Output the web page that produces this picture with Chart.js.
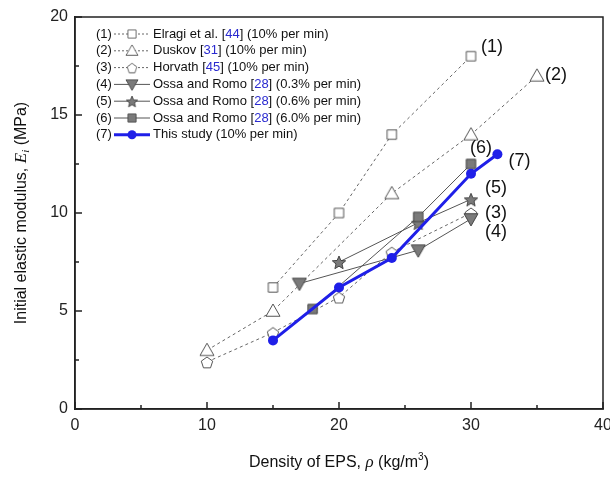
<!DOCTYPE html>
<html>
<head>
<meta charset="utf-8">
<script src="https://cdn.jsdelivr.net/npm/chart.js@4/dist/chart.umd.min.js"></script>
<style>
  html, body { margin: 0; padding: 0; background: #fff; }
  #wrap { width: 610px; height: 479px; }
</style>
</head>
<body>
<div id="wrap"><canvas id="chart" width="610" height="479"></canvas></div>
<script>
'use strict';

// data
const elragiX = [15, 20, 24, 30];
const elragiY = [6.2, 10, 14, 18];
const duskovX = [10, 15, 24, 30, 35];
const duskovY = [3.0, 5.0, 11, 14, 17];
const horvathX = [10, 15, 20, 24, 30];
const horvathY = [2.4, 3.9, 5.7, 8.0, 10.0];
const ossa03X = [17, 26, 30];
const ossa03Y = [6.4, 8.1, 9.7];
const ossa06X = [20, 26, 30];
const ossa06Y = [7.5, 9.5, 10.7];
const ossa60X = [18, 26, 30];
const ossa60Y = [5.1, 9.8, 12.5];
const studyX = [15, 20, 24, 30, 32];
const studyY = [3.5, 6.2, 7.7, 12.0, 13.0];

const xMajorTicks = [0, 10, 20, 30, 40];
const xMinorTicks = [5, 15, 25, 35];
const yMajorTicks = [0, 5, 10, 15, 20];
const yMinorTicks = [2.5, 7.5, 12.5, 17.5];

const seriesTags = ['(1)', '(2)', '(3)', '(4)', '(5)', '(6)', '(7)'];
const legendNames = ['Elragi et al. ', 'Duskov ', 'Horvath ', 'Ossa and Romo ', 'Ossa and Romo ', 'Ossa and Romo ', 'This study '];
const legendRefs = ['44', '31', '45', '28', '28', '28', null];
const legendRates = ['(10% per min)', '(10% per min)', '(10% per min)', '(0.3% per min)', '(0.6% per min)', '(6.0% per min)', '(10% per min)'];

const GRAY = '#555';
const FILL = '#7a7a7a';
const BLUE = '#1f1fe8';
const REF_BLUE = '#2a2ad0';
const SANS = '"Liberation Sans", Arial, sans-serif';
const SERIF = '"Liberation Serif", "Times New Roman", serif';

function pts(xs, ys) {
  return xs.map((x, i) => ({ x, y: ys[i] }));
}

function makeMarker(shape, size, fill, stroke) {
  const c = document.createElement('canvas');
  c.width = size + 2;
  c.height = size + 2;
  const g = c.getContext('2d');
  const cx = c.width / 2, cy = c.height / 2, r = size / 2;
  g.beginPath();
  if (shape === 'square') {
    g.rect(cx - r * 0.85, cy - r * 0.85, r * 1.7, r * 1.7);
  } else if (shape === 'tri') {
    g.moveTo(cx, cy - r);
    g.lineTo(cx + r, cy + r * 0.75);
    g.lineTo(cx - r, cy + r * 0.75);
    g.closePath();
  } else if (shape === 'tridown') {
    g.moveTo(cx, cy + r);
    g.lineTo(cx + r, cy - r * 0.75);
    g.lineTo(cx - r, cy - r * 0.75);
    g.closePath();
  } else if (shape === 'pent') {
    for (let i = 0; i < 5; i++) {
      const a = -Math.PI / 2 + i * 2 * Math.PI / 5;
      const px = cx + r * Math.cos(a), py = cy + 1 + r * Math.sin(a);
      if (i === 0) g.moveTo(px, py); else g.lineTo(px, py);
    }
    g.closePath();
  } else if (shape === 'star') {
    for (let i = 0; i < 10; i++) {
      const a = -Math.PI / 2 + i * Math.PI / 5;
      const rr = i % 2 === 0 ? r : r * 0.45;
      const px = cx + rr * Math.cos(a), py = cy + 1 + rr * Math.sin(a);
      if (i === 0) g.moveTo(px, py); else g.lineTo(px, py);
    }
    g.closePath();
  }
  g.fillStyle = fill;
  g.fill();
  g.lineWidth = 1;
  g.strokeStyle = stroke;
  g.stroke();
  return c;
}

const mSquare = makeMarker('square', 11, '#fff', GRAY);
const mTri = makeMarker('tri', 14, '#fff', GRAY);
const mPent = makeMarker('pent', 12, '#fff', GRAY);
const mTriDown = makeMarker('tridown', 14, FILL, '#444');
const mStar = makeMarker('star', 14, FILL, '#444');
const mSquareF = makeMarker('square', 11, FILL, '#444');

const legendMarkers = [mSquare, mTri, mPent, mTriDown, mStar, mSquareF, 'dot'];
const legendDashed = [true, true, true, false, false, false, false];
// label offsets (px) from last point of each series
const tagOffsets = [[21, -9], [19, -1], [25, 0], [25, 13], [25, -11], [10, -16], [22, 7]];

function dashedSet(data, marker, order) {
  return {
    data, pointStyle: marker, borderColor: '#666', borderWidth: 1, borderDash: [3, 3],
    backgroundColor: '#fff', showLine: true, order,
  };
}
function solidSet(data, marker, order) {
  return {
    data, pointStyle: marker, borderColor: '#555', borderWidth: 1,
    backgroundColor: FILL, showLine: true, order,
  };
}

function drawParts(ctx, x, y, parts) {
  let cx = x;
  parts.forEach(p => {
    ctx.font = p.font;
    ctx.fillStyle = p.color || '#111';
    ctx.fillText(p.text, cx, y + (p.dy || 0));
    cx += ctx.measureText(p.text).width;
  });
  return cx - x;
}
function partsWidth(ctx, parts) {
  let w = 0;
  parts.forEach(p => { ctx.font = p.font; w += ctx.measureText(p.text).width; });
  return w;
}

const decorPlugin = {
  id: 'decor',
  afterDraw(chart) {
    const ctx = chart.ctx;
    const a = chart.chartArea;
    const xs = chart.scales.x, ys = chart.scales.y;
    ctx.save();
    // frame
    ctx.strokeStyle = '#222';
    ctx.lineWidth = 1.5;
    ctx.strokeRect(a.left, a.top, a.right - a.left, a.bottom - a.top);
    // inward ticks
    ctx.beginPath();
    xMajorTicks.forEach(v => { const p = xs.getPixelForValue(v); ctx.moveTo(p, a.bottom); ctx.lineTo(p, a.bottom - 7); });
    xMinorTicks.forEach(v => { const p = xs.getPixelForValue(v); ctx.moveTo(p, a.bottom); ctx.lineTo(p, a.bottom - 4); });
    yMajorTicks.forEach(v => { const p = ys.getPixelForValue(v); ctx.moveTo(a.left, p); ctx.lineTo(a.left + 7, p); });
    yMinorTicks.forEach(v => { const p = ys.getPixelForValue(v); ctx.moveTo(a.left, p); ctx.lineTo(a.left + 4, p); });
    ctx.stroke();

    // series tags near last points
    ctx.font = '18px ' + SANS;
    ctx.fillStyle = '#111';
    ctx.textAlign = 'center';
    ctx.textBaseline = 'middle';
    chart.data.datasets.forEach((ds, i) => {
      const last = ds.data[ds.data.length - 1];
      const px = xs.getPixelForValue(last.x) + tagOffsets[i][0];
      const py = ys.getPixelForValue(last.y) + tagOffsets[i][1];
      ctx.fillText(seriesTags[i], px, py);
    });

    // legend
    ctx.textAlign = 'left';
    const lx = 96, ly0 = 34, lh = 16.8;
    seriesTags.forEach((tag, i) => {
      const y = ly0 + i * lh;
      ctx.font = '13px ' + SANS;
      ctx.fillStyle = '#111';
      ctx.fillText(tag, lx, y);
      const s0 = lx + 18, s1 = lx + 54, mc = (s0 + s1) / 2;
      ctx.beginPath();
      if (legendDashed[i]) {
        ctx.setLineDash([2, 2]);
        ctx.strokeStyle = '#666';
        ctx.lineWidth = 1;
      } else {
        ctx.setLineDash([]);
        ctx.strokeStyle = i === 6 ? BLUE : '#555';
        ctx.lineWidth = i === 6 ? 3 : 1;
      }
      ctx.moveTo(s0, y); ctx.lineTo(s1, y);
      ctx.stroke();
      ctx.setLineDash([]);
      const m = legendMarkers[i];
      if (m === 'dot') {
        ctx.beginPath();
        ctx.fillStyle = BLUE;
        ctx.arc(mc, y, 4.5, 0, Math.PI * 2);
        ctx.fill();
      } else {
        const w = m.width * 0.85, h = m.height * 0.85;
        ctx.drawImage(m, mc - w / 2, y - h / 2, w, h);
      }
      const f = '13px ' + SANS;
      const parts = [{ text: legendNames[i], font: f }];
      if (legendRefs[i]) {
        parts.push({ text: '[', font: f });
        parts.push({ text: legendRefs[i], font: f, color: REF_BLUE });
        parts.push({ text: '] ', font: f });
      }
      parts.push({ text: legendRates[i], font: f });
      drawParts(ctx, s1 + 3, y, parts);
    });

    // x title
    const xf = '16px ' + SANS;
    const xParts = [
      { text: 'Density of EPS, ', font: xf },
      { text: 'ρ', font: 'italic 17px ' + SERIF },
      { text: ' (kg/m', font: xf },
      { text: '3', font: '10px ' + SANS, dy: -6 },
      { text: ')', font: xf },
    ];
    const xw = partsWidth(ctx, xParts);
    drawParts(ctx, (a.left + a.right) / 2 - xw / 2, 463, xParts);

    // y title
    const yParts = [
      { text: 'Initial elastic modulus, ', font: xf },
      { text: 'E', font: 'italic 17px ' + SERIF },
      { text: 'i', font: 'italic 11px ' + SERIF, dy: 4 },
      { text: ' (MPa)', font: xf },
    ];
    const yw = partsWidth(ctx, yParts);
    ctx.translate(22, (a.top + a.bottom) / 2);
    ctx.rotate(-Math.PI / 2);
    drawParts(ctx, -yw / 2, 0, yParts);
    ctx.restore();
  },
};

new Chart(document.getElementById('chart'), {
  type: 'scatter',
  data: {
    datasets: [
      dashedSet(pts(elragiX, elragiY), mSquare, 6),
      dashedSet(pts(duskovX, duskovY), mTri, 5),
      dashedSet(pts(horvathX, horvathY), mPent, 4),
      solidSet(pts(ossa03X, ossa03Y), mTriDown, 3),
      solidSet(pts(ossa06X, ossa06Y), mStar, 2),
      solidSet(pts(ossa60X, ossa60Y), mSquareF, 1),
      {
        data: pts(studyX, studyY), pointStyle: 'circle', pointRadius: 5,
        borderColor: BLUE, backgroundColor: BLUE, pointBorderWidth: 0,
        borderWidth: 3, showLine: true, order: 0,
      },
    ],
  },
  options: {
    responsive: false,
    animation: false,
    layout: { padding: { top: 17, right: 7, left: 0, bottom: 0 } },
    plugins: { legend: { display: false }, tooltip: { enabled: false } },
    scales: {
      x: {
        type: 'linear', min: 0, max: 40,
        afterBuildTicks: s => { s.ticks = xMajorTicks.map(v => ({ value: v })); },
        afterFit: s => { s.height = 70; s.paddingLeft = 0; s.paddingRight = 0; },
        ticks: { font: { family: SANS, size: 16 }, color: '#222', padding: 7 },
        grid: { display: false, drawTicks: false },
        border: { display: true, color: '#222', width: 1.5 },
      },
      y: {
        type: 'linear', min: 0, max: 20,
        afterBuildTicks: s => { s.ticks = yMajorTicks.map(v => ({ value: v })); },
        afterFit: s => { s.width = 75; s.paddingTop = 0; s.paddingBottom = 0; },
        ticks: { font: { family: SANS, size: 16 }, color: '#222', padding: 7 },
        grid: { display: false, drawTicks: false },
        border: { display: true, color: '#222', width: 1.5 },
      },
    },
  },
  plugins: [decorPlugin],
});
</script>
</body>
</html>
